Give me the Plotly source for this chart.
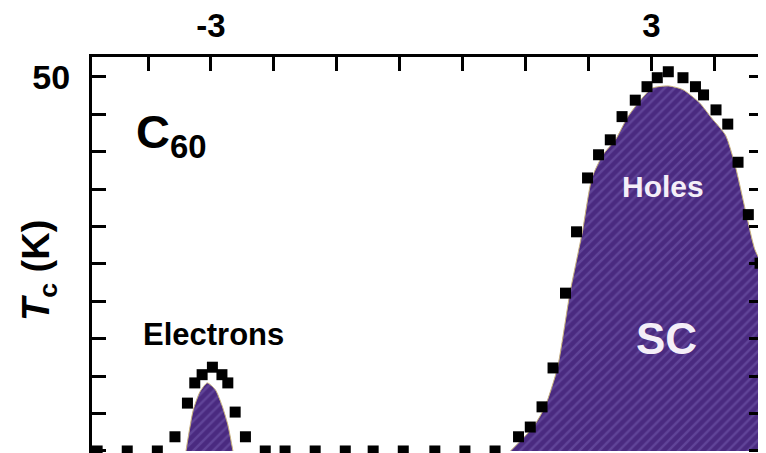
import plotly.graph_objects as go

# ---------------- data ----------------
# black squares: measured Tc (K) vs doping
base_x = [-4.55, -4.14, -3.73, -2.26, -1.99, -1.58, -1.17, -0.79, -0.38, 0.05, 0.46, 0.87]
base_T = [0, 0, 0, 0, 0, 0, 0, 0, 0, 0, 0, 0]

elec_x = [-3.49, -3.32, -3.22, -3.12, -2.98, -2.85, -2.77, -2.67, -2.53]
elec_T = [1.9, 6.4, 9.1, 10.2, 11.2, 10.2, 9.1, 5.2, 1.9]

hole_x = [1.19, 1.35, 1.51, 1.66, 1.83, 1.98, 2.13, 2.28, 2.44, 2.60, 2.78, 2.94,
          3.08, 3.23, 3.43, 3.60, 3.71, 3.88, 4.04, 4.18, 4.32, 4.48]
hole_T = [1.9, 3.2, 5.9, 11.1, 21.1, 29.3, 36.5, 39.6, 41.6, 44.7, 46.9, 48.7,
          49.9, 50.7, 49.9, 48.7, 47.6, 45.6, 43.7, 38.6, 31.6, 25.1]

# shaded superconducting regions (envelope under the points)
sc_e_x = [-3.34, -3.24, -3.15, -3.05, -2.94, -2.85, -2.77, -2.70]
sc_e_T = [0, 5.5, 7.9, 9.1, 8.2, 6.1, 3.5, 0]

sc_h_x = [1.08, 1.39, 1.55, 1.72, 1.89, 2.06, 2.19, 2.34, 2.51, 2.68, 2.85, 3.01,
          3.23, 3.43, 3.66, 3.82, 4.01, 4.14, 4.28, 4.41, 4.55]
sc_h_T = [0, 3.2, 5.9, 11.1, 21.1, 29.3, 36.5, 39.6, 41.6, 44.7, 46.9, 48.5,
          48.8, 48.3, 46.5, 44.5, 42.2, 38.2, 32.2, 26.9, 24.2]

# axis ticks
x_tick_vals = [-3.0, 3.0]
x_tick_text = ["<b>-3</b>", "<b>3</b>"]
x_minor_vals = [-3.857, -2.143, -1.286, -0.429, 0.429, 1.286, 2.143, 3.857]
y_tick_vals = [50]
y_tick_text = ["<b>50</b>"]
y_minor_vals = [0, 5, 10, 15, 20, 25, 30, 35, 40, 45]

FILL_BG = "#4a2a80"
FILL_FG = "#765db0"
FONT = "Liberation Sans"

fig = go.Figure()

for fx, fy in [(sc_e_x, sc_e_T), (sc_h_x, sc_h_T)]:
    fig.add_trace(go.Scatter(
        x=fx, y=fy, mode="lines", fill="tozeroy",
        line=dict(color="#c8b27c", width=1, shape="spline", smoothing=0.6),
        fillcolor=FILL_BG,
        fillpattern=dict(shape="/", bgcolor=FILL_BG, fgcolor=FILL_FG,
                         size=7, solidity=0.35),
        hoverinfo="skip", showlegend=False,
    ))

for px_, py_ in [(base_x, base_T), (elec_x, elec_T), (hole_x, hole_T)]:
    fig.add_trace(go.Scatter(
        x=px_, y=py_, mode="markers",
        marker=dict(symbol="square", size=11, color="black", line=dict(width=0)),
        showlegend=False,
    ))

tick_style = dict(ticks="inside", ticklen=14, tickwidth=3, tickcolor="black")

fig.update_layout(
    width=758, height=445,
    margin=dict(l=84, r=3, t=49, b=0),
    paper_bgcolor="white", plot_bgcolor="white",
    font=dict(family=FONT, color="black"),
    showlegend=False,
    xaxis=dict(
        side="top", range=[-4.62, 4.52], automargin=False,
        tickmode="array", tickvals=x_tick_vals, ticktext=x_tick_text,
        minor=dict(tickmode="array", tickvals=x_minor_vals, showgrid=False, **tick_style),
        showline=True, linewidth=3, linecolor="black", mirror=True,
        showgrid=False, zeroline=False,
        tickfont=dict(size=33, family=FONT, color="black"),
        ticklabelstandoff=4,
        **tick_style,
    ),
    yaxis=dict(
        range=[-0.27, 52.67], automargin=False,
        tickmode="array", tickvals=y_tick_vals, ticktext=y_tick_text,
        minor=dict(tickmode="array", tickvals=y_minor_vals, showgrid=False, **tick_style),
        showline=True, linewidth=3, linecolor="black", mirror="ticks",
        showgrid=False, zeroline=False,
        tickfont=dict(size=34, family=FONT, color="black"),
        ticklabelstandoff=12,
        **tick_style,
    ),
    annotations=[
        dict(xref="paper", yref="paper", x=-0.079, y=0.462,
             text="<b><i>T</i><sub>c</sub> (K)</b>", textangle=-90,
             showarrow=False, xanchor="center", yanchor="middle",
             font=dict(size=38, family=FONT, color="black")),
        dict(x=-4.05, y=42.3, text="<b>C<sub>60</sub></b>",
             showarrow=False, xanchor="left", yanchor="middle",
             font=dict(size=47, family=FONT, color="black")),
        dict(x=-2.97, y=15.6, text="<b>Electrons</b>",
             showarrow=False, xanchor="center", yanchor="middle",
             font=dict(size=31, family=FONT, color="black")),
        dict(x=3.16, y=35.4, text="<b>Holes</b>",
             showarrow=False, xanchor="center", yanchor="middle",
             font=dict(size=30, family=FONT, color="#f4eef8")),
        dict(x=3.20, y=15.1, text="<b>SC</b>",
             showarrow=False, xanchor="center", yanchor="middle",
             font=dict(size=44, family=FONT, color="#f4eef8")),
    ],
)

fig.write_html("out.html")
